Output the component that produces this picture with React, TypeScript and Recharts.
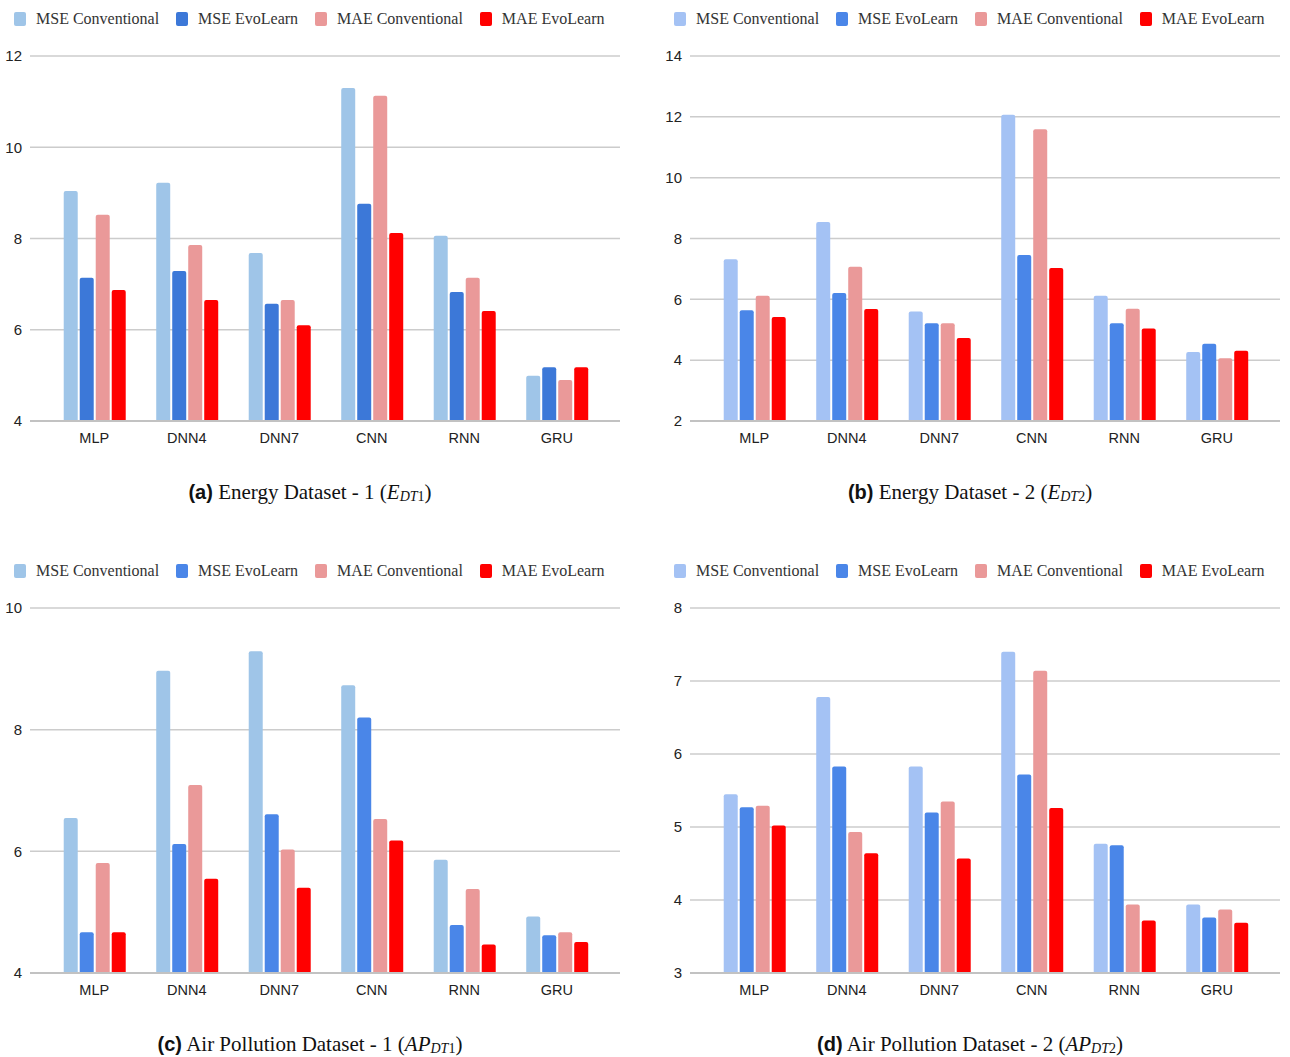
import React from "react";
import { BarChart, Bar, XAxis, YAxis, CartesianGrid } from "recharts";

const categories = ["MLP", "DNN4", "DNN7", "CNN", "RNN", "GRU"];
const seriesNames = ["MSE Conventional", "MSE EvoLearn", "MAE Conventional", "MAE EvoLearn"];

// (a) Energy Dataset - 1
const aMseConv = [9.04, 9.22, 7.68, 11.3, 8.06, 4.99];
const aMseEvo = [7.14, 7.29, 6.57, 8.76, 6.83, 5.18];
const aMaeConv = [8.52, 7.86, 6.65, 11.13, 7.14, 4.9];
const aMaeEvo = [6.87, 6.65, 6.1, 8.12, 6.41, 5.18];
const aTicks = [4, 6, 8, 10, 12];

// (b) Energy Dataset - 2
const bMseConv = [7.32, 8.54, 5.6, 12.07, 6.12, 4.27];
const bMseEvo = [5.64, 6.21, 5.21, 7.46, 5.21, 4.54];
const bMaeConv = [6.12, 7.07, 5.21, 11.59, 5.69, 4.06];
const bMaeEvo = [5.42, 5.68, 4.73, 7.03, 5.04, 4.31];
const bTicks = [2, 4, 6, 8, 10, 12, 14];

// (c) Air Pollution Dataset - 1
const cMseConv = [6.55, 8.97, 9.29, 8.73, 5.86, 4.93];
const cMseEvo = [4.67, 6.12, 6.61, 8.2, 4.79, 4.62];
const cMaeConv = [5.81, 7.09, 6.03, 6.53, 5.38, 4.67];
const cMaeEvo = [4.67, 5.55, 5.4, 6.18, 4.47, 4.51];
const cTicks = [4, 6, 8, 10];

// (d) Air Pollution Dataset - 2
const dMseConv = [5.45, 6.78, 5.83, 7.4, 4.77, 3.94];
const dMseEvo = [5.27, 5.83, 5.2, 5.72, 4.75, 3.76];
const dMaeConv = [5.29, 4.93, 5.35, 7.14, 3.94, 3.87];
const dMaeEvo = [5.02, 4.64, 4.57, 5.26, 3.72, 3.69];
const dTicks = [3, 4, 5, 6, 7, 8];

const build = (s1: number[], s2: number[], s3: number[], s4: number[]) =>
  categories.map((c, i) => ({ name: c, s1: s1[i], s2: s2[i], s3: s3[i], s4: s4[i] }));

const panels = [
  {
    x: 0, y: 0, data: build(aMseConv, aMseEvo, aMaeConv, aMaeEvo), ticks: aTicks,
    colors: ["#9fc5e8", "#3c78d8", "#ea9999", "#ff0000"],
    label: "(a)", title: "Energy Dataset - 1 (", main: "E", sub: "DT", num: "1",
  },
  {
    x: 660, y: 0, data: build(bMseConv, bMseEvo, bMaeConv, bMaeEvo), ticks: bTicks,
    colors: ["#a4c2f4", "#4a86e8", "#ea9999", "#ff0000"],
    label: "(b)", title: "Energy Dataset - 2 (", main: "E", sub: "DT", num: "2",
  },
  {
    x: 0, y: 552, data: build(cMseConv, cMseEvo, cMaeConv, cMaeEvo), ticks: cTicks,
    colors: ["#9fc5e8", "#4a86e8", "#ea9999", "#ff0000"],
    label: "(c)", title: "Air Pollution Dataset - 1 (", main: "AP", sub: "DT", num: "1",
  },
  {
    x: 660, y: 552, data: build(dMseConv, dMseEvo, dMaeConv, dMaeEvo), ticks: dTicks,
    colors: ["#a4c2f4", "#4a86e8", "#ea9999", "#ff0000"],
    label: "(d)", title: "Air Pollution Dataset - 2 (", main: "AP", sub: "DT", num: "2",
  },
];

const serif = "'Liberation Serif', 'Times New Roman', serif";
const sans = "'Liberation Sans', Arial, sans-serif";

function Legend({ colors }: { colors: string[] }) {
  return (
    <div style={{ display: "flex", alignItems: "center", fontFamily: serif, fontSize: 16, color: "#333", whiteSpace: "nowrap" }}>
      {seriesNames.map((n, i) => (
        <div key={n} style={{ display: "flex", alignItems: "center", marginRight: 17 }}>
          <div style={{ width: 12, height: 14, background: colors[i], borderRadius: 2, marginRight: 10 }} />
          <span>{n}</span>
        </div>
      ))}
    </div>
  );
}

function Panel({ p }: { p: any }) {
  const min = p.ticks[0];
  const max = p.ticks[p.ticks.length - 1];
  return (
    <div style={{ position: "absolute", left: p.x, top: p.y, width: 640, height: 505 }}>
      <div style={{ position: "absolute", left: 14, top: 10, height: 20 }}>
        <Legend colors={p.colors} />
      </div>
      <div style={{ position: "absolute", left: 0, top: 40 }}>
        <BarChart
          width={640}
          height={430}
          data={p.data}
          margin={{ top: 16, right: 20, left: 0, bottom: 19 }}
          barCategoryGap="17%"
          barGap={2}
        >
          <CartesianGrid vertical={false} stroke="#cccccc" strokeWidth={1.5} />
          <XAxis
            dataKey="name"
            tickLine={false}
            axisLine={{ stroke: "#c2c2c2", strokeWidth: 2 }}
            tick={{ fill: "#222", fontSize: 14.5, fontFamily: sans }}
            tickMargin={6}
            padding={{ left: 18, right: 17 }}
            height={30}
          />
          <YAxis
            domain={[min, max]}
            ticks={p.ticks}
            allowDataOverflow
            axisLine={false}
            tickLine={false}
            tickSize={0}
            tickMargin={8}
            width={30}
            tick={{ fill: "#222", fontSize: 15, fontFamily: sans }}
          />
          {["s1", "s2", "s3", "s4"].map((k, i) => (
            <Bar key={k} dataKey={k} name={seriesNames[i]} fill={p.colors[i]} radius={[2, 2, 0, 0]} isAnimationActive={false} />
          ))}
        </BarChart>
      </div>
      <div
        style={{
          position: "absolute", left: 0, width: 620, top: 481, height: 22, lineHeight: "22px",
          textAlign: "center", fontFamily: serif, fontSize: 21, color: "#111", whiteSpace: "nowrap",
        }}
      >
        <span style={{ fontFamily: sans, fontWeight: "bold", fontSize: 20 }}>{p.label}</span> {p.title}
        <i>{p.main}</i>
        <sub style={{ fontSize: 14, verticalAlign: "-2px", lineHeight: 0 }}>
          <i>{p.sub}</i>{p.num}
        </sub>
        )
      </div>
    </div>
  );
}

export default function App() {
  return (
    <div style={{ position: "absolute", left: 0, top: 0, width: 1290, height: 1057, background: "#fff", overflow: "hidden" }}>
      {panels.map((p, i) => (
        <Panel key={i} p={p} />
      ))}
    </div>
  );
}
